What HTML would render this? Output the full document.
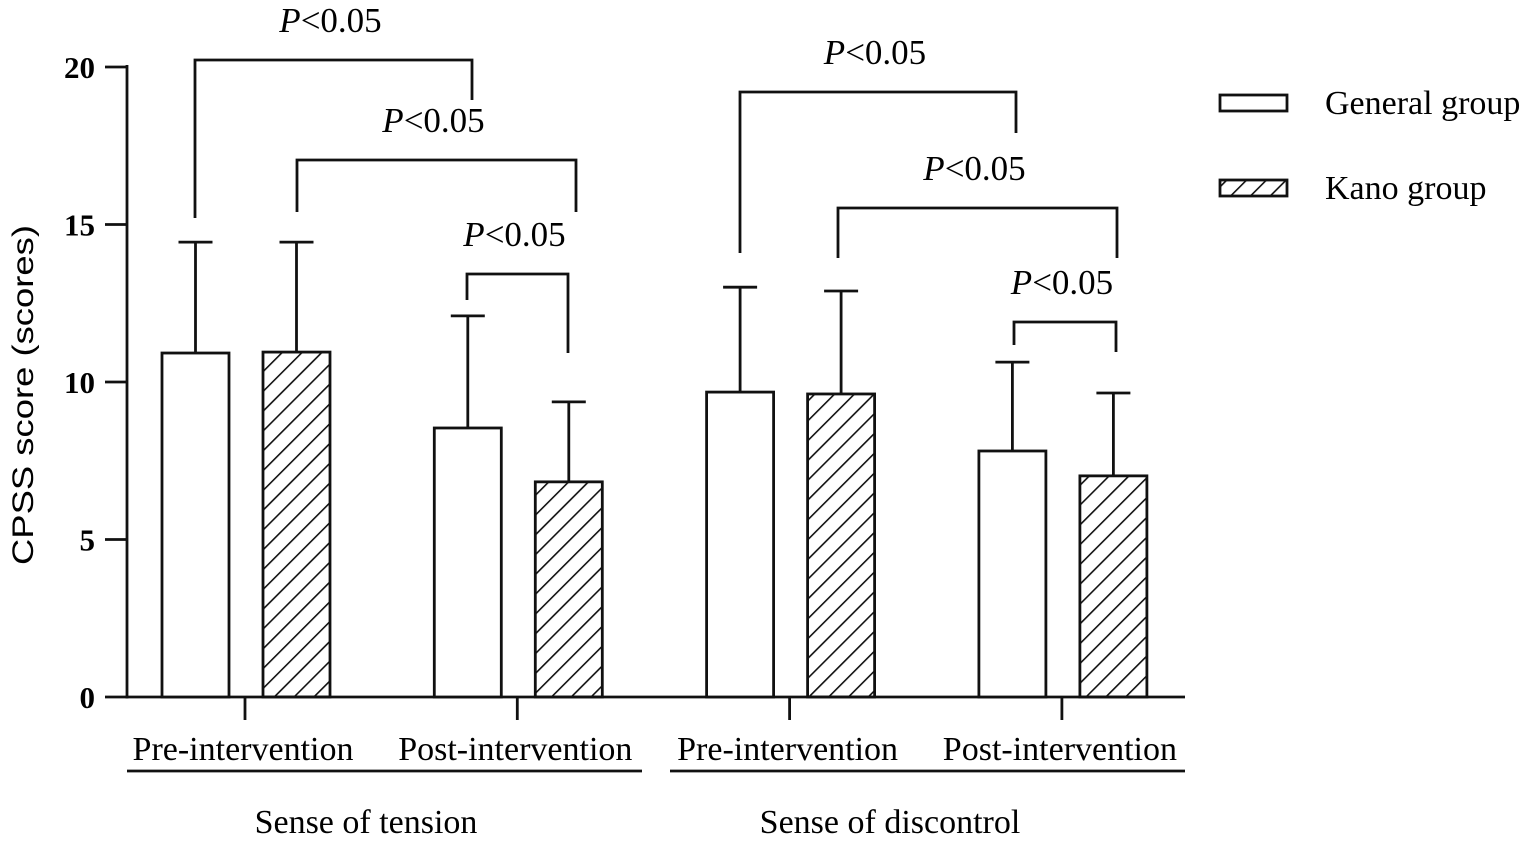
<!DOCTYPE html>
<html><head><meta charset="utf-8"><style>html,body{margin:0;padding:0;background:#fff}svg{display:block}</style></head>
<body>
<svg id="chart" width="1535" height="849" viewBox="0 0 1535 849" xmlns="http://www.w3.org/2000/svg" font-family="'Liberation Serif', serif">
<defs>
<pattern id="hatch" patternUnits="userSpaceOnUse" width="14" height="14" patternTransform="rotate(45)">
<line x1="0" y1="0" x2="0" y2="14" stroke="#111" stroke-width="3.2"/>
</pattern>
</defs>
<g id="plot"></g>
</svg>
<script>
const categories = ["Pre-intervention","Post-intervention","Pre-intervention","Post-intervention"];
const groups = ["Sense of tension","Sense of discontrol"];
const generalMeans = [10.92, 8.54, 9.68, 7.81];
const generalSD = [3.52, 3.56, 3.33, 2.82];
const kanoMeans = [10.95, 6.83, 9.62, 7.02];
const kanoSD = [3.49, 2.54, 3.27, 2.63];
const yTicks = [0,5,10,15,20];
const pLabel = "P<0.05";

const NS="http://www.w3.org/2000/svg";
const g=document.getElementById('plot');
const y0=697, y1=67, yMax=20;
const Y=v=>y0-(y0-y1)*v/yMax;
const xLeft=127, xRight=1185;
const catCenter=i=>245+i*272.3;
const barW=67;
const genX=i=>catCenter(i)-83;
const kanoX=i=>catCenter(i)+18;
function el(tag,attrs,text){const e=document.createElementNS(NS,tag);for(const k in attrs)e.setAttribute(k,attrs[k]);if(text!==undefined)e.textContent=text;g.appendChild(e);return e;}
const S={stroke:'#111','stroke-width':2.8,fill:'none'};

let a=el('line',{x1:xLeft,y1:y1-2,x2:xLeft,y2:y0+1.5,...S});


a=el('line',{x1:xLeft-1.5,y1:y0,x2:xRight,y2:y0,...S});


yTicks.forEach(t=>{
  let l=el('line',{x1:105,y1:Y(t),x2:xLeft,y2:Y(t),...S});
  
  
  let tx=el('text',{x:95,y:Y(t)+11,'text-anchor':'end','font-size':31,'font-weight':'bold'},t);
  
  
});
let yt=el('text',{x:0,y:0,transform:'translate(33,395) rotate(-90)','text-anchor':'middle','font-size':30,'font-family':"'Liberation Sans', sans-serif",textLength:340,lengthAdjust:'spacingAndGlyphs'},'CPSS score (scores)');



function errBar(cx,m,sd){
  let l=el('line',{x1:cx,y1:Y(m),x2:cx,y2:Y(m+sd),...S});
  
  
  let c=el('line',{x1:cx-17,y1:Y(m+sd),x2:cx+17,y2:Y(m+sd),...S});
  
  
}
categories.forEach((c,i)=>{
  errBar(genX(i)+barW/2,generalMeans[i],generalSD[i]);
  errBar(kanoX(i)+barW/2,kanoMeans[i],kanoSD[i]);
  let b=el('rect',{x:genX(i),y:Y(generalMeans[i]),width:barW,height:y0-Y(generalMeans[i]),fill:'#fff',stroke:'#111','stroke-width':2.8});
  
  
  b=el('rect',{x:kanoX(i),y:Y(kanoMeans[i]),width:barW,height:y0-Y(kanoMeans[i]),fill:'url(#hatch)',stroke:'#111','stroke-width':2.8});
  
  
  let t=el('line',{x1:catCenter(i),y1:y0,x2:catCenter(i),y2:720,...S});
  
  
  let tx=el('text',{x:catCenter(i)-2,y:760,'text-anchor':'middle','font-size':34},c);
  
  
});
groups.forEach((gname,k)=>{
  const xa=k?670:127, xb=k?1185:642;
  let l=el('line',{x1:xa,y1:771,x2:xb,y2:771,...S});
  
  
  let tx=el('text',{x:k?890:366,y:833,'text-anchor':'middle','font-size':34},gname);
  
  
});
const brackets=[[195,218,60,472,100],[297,212,160,576,212],[467,300,274,568,353],[740,253,92,1016,133],[838,258,208,1117,258],[1014,345,322,1116,352]];
brackets.forEach(b=>{
  let p=el('polyline',{points:`${b[0]},${b[1]} ${b[0]},${b[2]} ${b[3]},${b[2]} ${b[3]},${b[4]}`,...S});
  
  
  let t=el('text',{x:(b[0]+b[3])/2-3,y:b[2]-28,'text-anchor':'middle','font-size':35});
  
  
  t.innerHTML='<tspan font-style="italic">P</tspan>&lt;0.05';
});
[['General group','#fff',103,'legend-general'],['Kano group','url(#hatch)',188,'legend-kano']].forEach(L=>{
  let r=el('rect',{x:1220,y:L[2]-8,width:67,height:16,fill:L[1],stroke:'#111','stroke-width':2.8});
  
  
  let t=el('text',{x:1325,y:L[2]+11,'font-size':34},L[0]);
  
  
});
</script>
</body></html>
